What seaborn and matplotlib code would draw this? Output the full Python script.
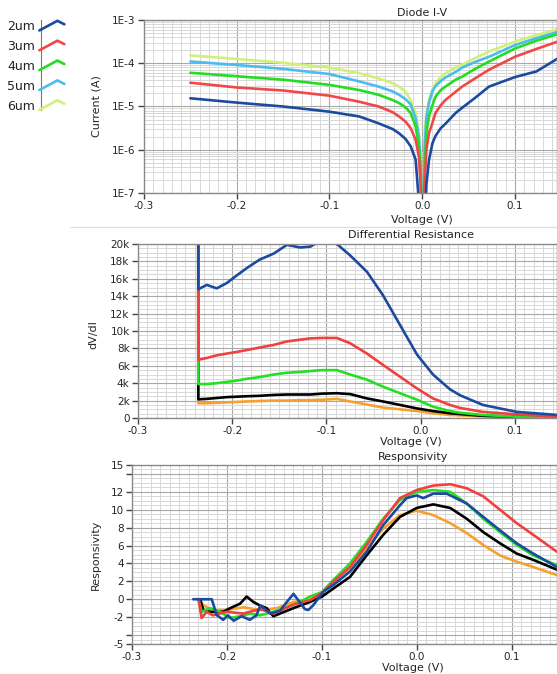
import matplotlib
matplotlib.use("Agg")
import matplotlib.pyplot as plt
from matplotlib.ticker import MultipleLocator, FixedLocator, FixedFormatter, LogLocator, NullFormatter
from matplotlib.legend_handler import HandlerBase
from matplotlib.lines import Line2D
import seaborn as sns
import pandas as pd

# ---------------- data ----------------
sizes = ["2um", "3um", "4um", "5um", "6um"]

# Diode I-V : log10(|I| / A)
iv_voltage = [-0.25, -0.2, -0.15, -0.1, -0.068, -0.047, -0.032, -0.025, -0.018, -0.0125,
              -0.0071, -0.0036, -0.0015, 0.0008, 0.0025, 0.0045, 0.0072, 0.011, 0.0143,
              0.02, 0.025, 0.036, 0.043, 0.057, 0.072, 0.1, 0.123, 0.15]
iv_log_2um = [-4.81, -4.91, -5.0, -5.12, -5.23, -5.39, -5.52, -5.62, -5.75, -5.92,
              -6.23, -7.2, -8.0, -9.0, -8.0, -6.8, -6.25, -5.85, -5.68,
              -5.5, -5.4, -5.15, -5.03, -4.8, -4.54, -4.32, -4.19, -3.84]
iv_log_3um = [-4.45, -4.56, -4.63, -4.75, -4.89, -5.0, -5.13, -5.23, -5.35, -5.5,
              -5.77, -6.16, -6.9, -9.0, -6.8, -6.0, -5.62, -5.38, -5.15,
              -4.97, -4.85, -4.66, -4.54, -4.35, -4.15, -3.85, -3.67, -3.47]
iv_log_4um = [-4.22, -4.3, -4.38, -4.5, -4.62, -4.73, -4.85, -4.92, -5.02, -5.15,
              -5.46, -5.93, -6.6, -9.0, -6.5, -5.6, -5.23, -4.97, -4.77,
              -4.62, -4.54, -4.38, -4.31, -4.13, -3.96, -3.66, -3.48, -3.3]
iv_log_5um = [-3.96, -4.04, -4.13, -4.25, -4.42, -4.54, -4.65, -4.73, -4.83, -4.95,
              -5.27, -5.7, -6.4, -9.0, -6.0, -5.25, -4.92, -4.65, -4.53,
              -4.41, -4.33, -4.2, -4.1, -3.97, -3.85, -3.58, -3.42, -3.25]
iv_log_6um = [-3.82, -3.9, -3.99, -4.1, -4.23, -4.35, -4.46, -4.54, -4.66, -4.85,
              -5.15, -5.62, -6.3, -9.0, -5.6, -5.2, -4.85, -4.6, -4.46,
              -4.32, -4.23, -4.1, -4.03, -3.88, -3.73, -3.5, -3.35, -3.19]

# Differential resistance (kOhm)
dr_voltage = [-0.2361, -0.236, -0.227, -0.2165, -0.206, -0.195, -0.185, -0.171, -0.156, -0.142,
              -0.128, -0.117, -0.105, -0.089, -0.075, -0.057, -0.040, -0.022, -0.004, 0.013,
              0.031, 0.042, 0.066, 0.102, 0.145]
dr_2um = [60, 14.8, 15.3, 14.9, 15.5, 16.4, 17.2, 18.2, 18.9, 19.9, 19.6, 19.7, 20.5, 20.0,
          18.7, 16.8, 14.1, 10.7, 7.3, 5.0, 3.3, 2.6, 1.5, 0.7, 0.35]
dr_3um = [60, 6.7, 6.9, 7.2, 7.4, 7.6, 7.8, 8.1, 8.4, 8.8, 9.0, 9.15, 9.2, 9.2, 8.6, 7.4,
          6.1, 4.75, 3.4, 2.25, 1.5, 1.15, 0.7, 0.42, 0.15]
dr_4um = [60, 3.9, 3.9, 4.0, 4.15, 4.3, 4.5, 4.7, 5.0, 5.2, 5.3, 5.4, 5.5, 5.5, 5.0, 4.4,
          3.6, 2.85, 2.1, 1.3, 0.8, 0.6, 0.35, 0.15, 0.05]
dr_5um = [60, 2.15, 2.2, 2.3, 2.4, 2.45, 2.5, 2.55, 2.65, 2.7, 2.7, 2.7, 2.8, 2.85, 2.75,
          2.25, 1.9, 1.5, 1.1, 0.8, 0.55, 0.45, 0.25, 0.15, 0.05]
dr_6um = [60, 1.7, 1.7, 1.75, 1.8, 1.85, 1.9, 1.95, 2.0, 2.0, 2.05, 2.05, 2.1, 2.2, 1.9,
          1.55, 1.2, 1.0, 0.8, 0.55, 0.35, 0.3, 0.2, 0.1, 0.05]

# Responsivity
rs_v_2um = [-0.2355, -0.216, -0.2109, -0.204, -0.199, -0.193, -0.1846, -0.176, -0.169, -0.165,
            -0.160, -0.1547, -0.1442, -0.137, -0.130, -0.125, -0.118, -0.1144, -0.109, -0.0986,
            -0.088, -0.0705, -0.053, -0.0355, -0.0179, -0.011, -0.0003, 0.0066, 0.0172, 0.0313,
            0.0523, 0.0698, 0.0874, 0.105, 0.1224, 0.1474]
rs_2um = [0, 0, -1.76, -2.3, -1.8, -2.4, -1.9, -2.3, -1.8, -0.7,
          -1.1, -1.6, -1.3, -0.3, 0.6, -0.1, -1.1, -1.2, -0.64, 0.84,
          1.6, 3.1, 5.3, 8.3, 10.5, 11.3, 11.6, 11.3, 11.8, 11.8,
          10.7, 9.2, 7.7, 6.25, 5.1, 3.6]
rs_v_3um = [-0.2300, -0.2267, -0.2214, -0.215, -0.2003, -0.1828, -0.1652, -0.151, -0.130,
            -0.1126, -0.100, -0.088, -0.0705, -0.053, -0.0355, -0.0179, -0.0003, 0.0172,
            0.035, 0.0523, 0.0698, 0.0874, 0.105, 0.1224, 0.1474]
rs_3um = [0, -2.1, -1.4, -1.8, -1.4, -1.6, -1.1, -1.6, -0.6, -0.1, 0.7, 1.96, 3.6, 6.06,
          8.85, 11.3, 12.2, 12.7, 12.85, 12.4, 11.5, 10.0, 8.5, 7.2, 5.3]
rs_v_4um = [-0.2300, -0.2267, -0.2179, -0.2074, -0.1968, -0.1863, -0.1758, -0.1653, -0.1512,
            -0.1372, -0.1232, -0.1126, -0.100, -0.088, -0.0705, -0.053, -0.0355, -0.0179,
            -0.0003, 0.0172, 0.035, 0.0523, 0.0698, 0.0874, 0.105, 0.1224, 0.1474]
rs_4um = [0, -1.4, -1.0, -1.4, -2.1, -1.9, -1.6, -1.8, -1.4, -0.9, -0.3, 0.3, 0.8, 2.15,
          4.0, 6.4, 9.0, 11.1, 12.0, 12.2, 12.0, 10.7, 9.0, 7.5, 6.06, 4.9, 3.8]
rs_v_5um = [-0.2284, -0.2249, -0.2179, -0.2039, -0.1968, -0.1863, -0.1793, -0.1723, -0.1653,
            -0.1582, -0.1512, -0.1442, -0.1302, -0.1126, -0.100, -0.088, -0.0705, -0.053,
            -0.0355, -0.0179, -0.0003, 0.0172, 0.035, 0.0523, 0.0698, 0.0874, 0.105, 0.1224,
            0.1474]
rs_5um = [0, -1.2, -1.4, -1.4, -1.0, -0.5, 0.3, -0.3, -0.7, -1.0, -1.9, -1.6, -1.0, -0.3,
          0.3, 1.2, 2.5, 4.9, 7.2, 9.2, 10.2, 10.6, 10.2, 9.0, 7.5, 6.25, 5.1, 4.4, 3.3]
rs_v_6um = [-0.2284, -0.2249, -0.2144, -0.2003, -0.1828, -0.1653, -0.1477, -0.1302, -0.1126,
            -0.100, -0.088, -0.0705, -0.053, -0.0355, -0.0179, -0.0003, 0.0172, 0.035,
            0.0523, 0.0698, 0.0874, 0.105, 0.1224, 0.1474]
rs_6um = [0, -0.7, -1.2, -1.2, -0.9, -1.2, -1.0, -0.3, -0.1, 0.7, 2.0, 3.5, 5.7, 7.9, 9.4,
          9.9, 9.4, 8.5, 7.4, 6.06, 4.9, 4.2, 3.6, 2.7]

iv_ticks = [1e-7, 1e-6, 1e-5, 1e-4, 1e-3]
iv_tick_labels = ["1E-7", "1E-6", "1E-5", "1E-4", "1E-3"]
dr_ticks = [0, 2, 4, 6, 8, 10, 12, 14, 16, 18, 20]
dr_tick_labels = ["0", "2k", "4k", "6k", "8k", "10k", "12k", "14k", "16k", "18k", "20k"]
rs_ticks = [-5, -4, -2, 0, 2, 4, 6, 8, 10, 12, 14, 15]
rs_tick_labels = ["-5", "", "-2", "0", "2", "4", "6", "8", "10", "12", "", "15"]
x_ticks = [-0.3, -0.2, -0.1, 0.0, 0.1]
x_tick_labels = ["-0.3", "-0.2", "-0.1", "0.0", "0.1"]

# ---------------- style ----------------
iv_colors = ["#1b4a9e", "#f04848", "#22dd22", "#4cbcee", "#d2f078"]
other_colors = ["#1b4a9e", "#f04040", "#22e022", "#000000", "#f5a030"]
line_w = 1.9
W, H = 557, 674

sns.set_style("white")
plt.rcParams["font.family"] = ["DejaVu Sans"]
plt.rcParams["text.color"] = "#222222"

fig = plt.figure(figsize=(W / 100, H / 100), dpi=100)


def px_axes(left, top, right, bottom):
    return fig.add_axes([left / W, 1 - bottom / H, (right - left) / W, (bottom - top) / H])


def style_axes(ax, xlim):
    ax.set_xlim(xlim)
    ax.xaxis.set_major_locator(FixedLocator(x_ticks))
    ax.xaxis.set_major_formatter(FixedFormatter(x_tick_labels))
    ax.xaxis.set_minor_locator(MultipleLocator(0.01))
    ax.grid(True, which="major", color="#a8a8a8", lw=0.8)
    ax.grid(True, which="minor", color="#d8d8d8", lw=0.7)
    ax.set_axisbelow(True)
    ax.tick_params(which="major", direction="out", length=4, width=1, color="#444444",
                   labelsize=7.5, bottom=True, left=True, pad=2)
    ax.tick_params(which="minor", length=0)
    for s in ax.spines.values():
        s.set_color("#8a8a8a")
        s.set_linewidth(1.0)


def place_labels(ax, title, tx, pad, ylabel, yx, yy, xly):
    ax.set_title(title, x=tx, pad=pad, fontsize=8)
    ax.set_xlabel("Voltage (V)", fontsize=8)
    ax.xaxis.set_label_coords(tx, xly)
    ax.xaxis.label.set_va("center")
    ax.set_ylabel(ylabel, fontsize=8)
    ax.yaxis.set_label_coords(yx, yy)
    ax.yaxis.label.set_va("center")


# ---------------- panel 1: Diode I-V ----------------
ax1 = px_axes(144, 20, 557, 193)
ax1.set_yscale("log")
iv_logs = [iv_log_2um, iv_log_3um, iv_log_4um, iv_log_5um, iv_log_6um]
df_iv = pd.concat([pd.DataFrame({"Voltage": iv_voltage,
                                 "Current": [10 ** v for v in vals],
                                 "size": s})
                   for s, vals in zip(sizes, iv_logs)])
for s, c in list(zip(sizes, iv_colors))[::-1]:
    sns.lineplot(data=df_iv[df_iv["size"] == s], x="Voltage", y="Current", color=c,
                 lw=line_w, estimator=None, sort=False, ax=ax1)
ax1.set_ylim(1e-7, 1e-3)
style_axes(ax1, (-0.3, 0.1453))
ax1.yaxis.set_major_locator(FixedLocator(iv_ticks))
ax1.yaxis.set_major_formatter(FixedFormatter(iv_tick_labels))
ax1.yaxis.set_minor_locator(LogLocator(base=10, subs=range(2, 10)))
ax1.yaxis.set_minor_formatter(NullFormatter())
place_labels(ax1, "Diode I-V", 0.673, 3, "Current (A)", -0.114, 0.5, -0.155)

# ---------------- panel 2: Differential Resistance ----------------
ax2 = px_axes(138, 244, 557, 418)
dr_vals = [dr_2um, dr_3um, dr_4um, dr_5um, dr_6um]
df_dr = pd.concat([pd.DataFrame({"Voltage": dr_voltage, "R": vals, "size": s})
                   for s, vals in zip(sizes, dr_vals)])
for s, c in list(zip(sizes, other_colors))[::-1]:
    sns.lineplot(data=df_dr[df_dr["size"] == s], x="Voltage", y="R", color=c,
                 lw=line_w, estimator=None, sort=False, ax=ax2)
ax2.set_ylim(0, 20)
style_axes(ax2, (-0.3, 0.1446))
ax2.yaxis.set_major_locator(FixedLocator(dr_ticks))
ax2.yaxis.set_major_formatter(FixedFormatter(dr_tick_labels))
ax2.yaxis.set_minor_locator(MultipleLocator(0.5))
place_labels(ax2, "Differential Resistance", 0.652, 4.5, "dV/dI", -0.107, 0.48, -0.138)

# ---------------- panel 3: Responsivity ----------------
ax3 = px_axes(132, 465, 557, 644)
rs_v = [rs_v_2um, rs_v_3um, rs_v_4um, rs_v_5um, rs_v_6um]
rs_vals = [rs_2um, rs_3um, rs_4um, rs_5um, rs_6um]
df_rs = pd.concat([pd.DataFrame({"Voltage": v, "Resp": r, "size": s})
                   for s, v, r in zip(sizes, rs_v, rs_vals)])
for s, c in list(zip(sizes, other_colors))[::-1]:
    sns.lineplot(data=df_rs[df_rs["size"] == s], x="Voltage", y="Resp", color=c,
                 lw=line_w, estimator=None, sort=False, ax=ax3)
ax3.set_ylim(-5, 15)
style_axes(ax3, (-0.3, 0.1474))
ax3.yaxis.set_major_locator(FixedLocator(rs_ticks))
ax3.yaxis.set_major_formatter(FixedFormatter(rs_tick_labels))
ax3.yaxis.set_minor_locator(MultipleLocator(0.5))
place_labels(ax3, "Responsivity", 0.661, 3.5, "Responsivity", -0.085, 0.5, -0.134)

# ---------------- legend (LabVIEW style chevrons) ----------------
class ChevronHandler(HandlerBase):
    def create_artists(self, legend, orig_handle, xdescent, ydescent, width, height,
                       fontsize, trans):
        x0, y0 = -xdescent, -ydescent
        line = Line2D([x0, x0 + 0.72 * width, x0 + width],
                      [y0 - 0.05 * height, y0 + 1.05 * height, y0 + 0.65 * height],
                      color=orig_handle.get_color(), lw=orig_handle.get_linewidth(),
                      solid_joinstyle="miter")
        line.set_transform(trans)
        return [line]


handles = [Line2D([], [], color=c, lw=line_w) for c in iv_colors]
fig.legend(handles, sizes, loc="upper left", bbox_to_anchor=(7 / W, 1 - 20 / H),
           frameon=False, markerfirst=False, borderpad=0, borderaxespad=0,
           handlelength=2.0, handletextpad=0.35, labelspacing=0.55, fontsize=9,
           handler_map={Line2D: ChevronHandler()})
fig.add_artist(Line2D([41 / W, 41 / W], [1 - 20 / H, 1 - 110 / H],
                      transform=fig.transFigure, color="#777777", lw=0.8))
fig.add_artist(Line2D([70 / W, 1.0], [1 - 227 / H, 1 - 227 / H],
                      transform=fig.transFigure, color="#dddddd", lw=0.8))

fig.savefig("out.png", dpi=100)
